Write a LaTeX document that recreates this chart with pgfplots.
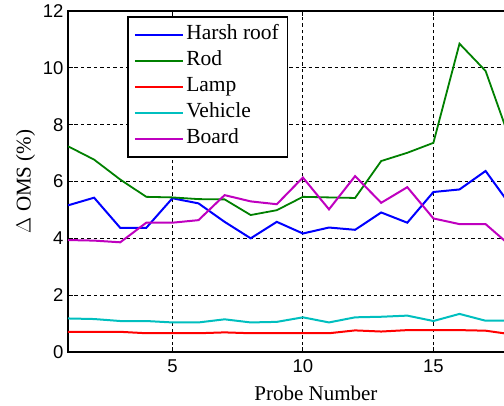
\documentclass[border=0pt]{standalone}
\usepackage{fontspec}
\setmainfont{Liberation Serif}
\setsansfont{Liberation Sans}
\usepackage{pgfplots}
\pgfplotsset{compat=1.18}

\definecolor{mblue}{rgb}{0,0,1}
\definecolor{mgreen}{rgb}{0,0.5,0}
\definecolor{mred}{rgb}{1,0,0}
\definecolor{mcyan}{rgb}{0,0.75,0.75}
\definecolor{mmagenta}{rgb}{0.75,0,0.75}

\begin{document}
\begin{tikzpicture}
\begin{axis}[
  name=ax,
  scale only axis,
  width=495.9pt, height=341pt,
  xmin=1, xmax=20, ymin=0, ymax=12,
  xtick={5,10,15},
  ytick={0,2,4,6,8,10,12},
  tick align=inside,
  major tick length=5pt,
  tick style={black, line width=1pt},
  axis line style={black, line width=2pt},
  grid=major,
  grid style={black, line width=0.8pt, dash pattern=on 3.5pt off 3pt},
  /pgf/number format/assume math mode=true,
  tick label style={font=\sffamily\fontsize{18.5}{20}\selectfont},
  xticklabel style={yshift=-4pt},
  yticklabel style={xshift=-1pt},
  label style={font=\fontsize{21}{25}\selectfont},
  xlabel={Probe Number},
  ylabel={$\Delta$ OMS (\%)},
  xlabel style={yshift=-6pt},
  ylabel style={yshift=1pt},
  legend cell align=left,
  legend style={
    at={(0.119,0.985)}, anchor=north west,
    draw=black, line width=1.6pt,
    font=\fontsize{21.5}{25}\selectfont,
    inner xsep=6pt, inner ysep=5pt,
    row sep=0pt,
    nodes={inner sep=2.5pt, text height=15pt, text depth=6pt},
    every node/.append style={inner xsep=3.5pt},
  },
  legend image code/.code={\draw[#1, line width=2pt] (0pt,0pt) -- (48pt,0pt);},
  every axis plot/.append style={line width=2pt},
]
\addplot[mblue] coordinates {
 (1,5.16) (2,5.43) (3,4.37) (4,4.37) (5,5.41) (6,5.23) (7,4.58) (8,4.00) (9,4.58)
 (10,4.17) (11,4.38) (12,4.30) (13,4.91) (14,4.55) (15,5.63) (16,5.72) (17,6.37) (18,5.10)};
\addlegendentry{Harsh roof}
\addplot[mgreen, line width=1.8pt] coordinates {
 (1,7.24) (2,6.77) (3,6.07) (4,5.46) (5,5.44) (6,5.38) (7,5.37) (8,4.82) (9,4.99)
 (10,5.46) (11,5.44) (12,5.42) (13,6.72) (14,7.01) (15,7.36) (16,10.85) (17,9.89) (18,7.30)};
\addlegendentry{Rod}
\addplot[mred] coordinates {
 (1,0.71) (2,0.71) (3,0.71) (4,0.66) (5,0.66) (6,0.66) (7,0.69) (8,0.66) (9,0.66)
 (10,0.66) (11,0.66) (12,0.76) (13,0.72) (14,0.77) (15,0.77) (16,0.77) (17,0.75) (18,0.62)};
\addlegendentry{Lamp}
\addplot[mcyan] coordinates {
 (1,1.18) (2,1.16) (3,1.09) (4,1.09) (5,1.04) (6,1.04) (7,1.15) (8,1.04) (9,1.06)
 (10,1.22) (11,1.04) (12,1.22) (13,1.24) (14,1.28) (15,1.09) (16,1.34) (17,1.10) (18,1.10)};
\addlegendentry{Vehicle}
\addplot[mmagenta] coordinates {
 (1,3.94) (2,3.92) (3,3.86) (4,4.55) (5,4.55) (6,4.64) (7,5.52) (8,5.30) (9,5.20)
 (10,6.14) (11,5.02) (12,6.19) (13,5.25) (14,5.80) (15,4.70) (16,4.50) (17,4.50) (18,3.70)};
\addlegendentry{Board}
\end{axis}
% page frame: the plot continues past the right edge of the page
\pgfresetboundingbox
\path[use as bounding box] ([shift={(-68pt,-54pt)}]ax.south west) rectangle ([shift={(436pt,352pt)}]ax.south west);
\end{tikzpicture}
\end{document}
